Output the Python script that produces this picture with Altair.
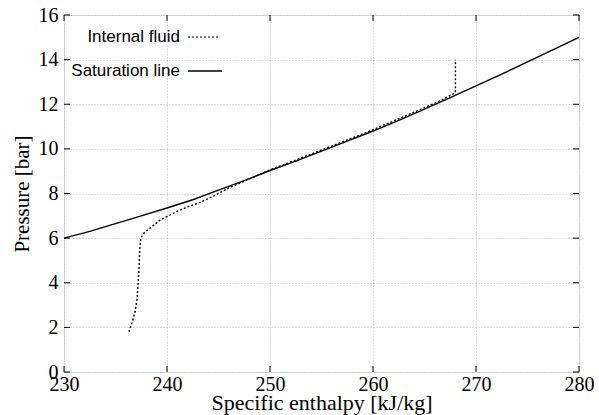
import altair as alt
import pandas as pd

# Saturation line
sat_h = [230, 232.5, 235, 237.5, 240, 242.5, 245, 247.5, 250, 252.5, 255, 257.5,
         260, 262.5, 265, 267.5, 270, 272.5, 275, 277.5, 280]
sat_p = [6.0, 6.3, 6.65, 7.0, 7.35, 7.72, 8.15, 8.58, 9.03, 9.45, 9.9, 10.35,
         10.8, 11.28, 11.78, 12.3, 12.82, 13.35, 13.9, 14.45, 15.0]

# Internal fluid
fl_h = [236.3, 236.6, 236.9, 237.1, 237.2, 237.3, 237.35, 237.45, 237.8, 238.5,
        239.3, 240.0, 241.0, 242.0, 243.2, 244.5, 246.0, 248.0, 250.0, 252.5,
        255.0, 257.5, 260.0, 262.5, 265.0, 266.5, 268.0, 268.0]
fl_p = [1.8, 2.2, 2.7, 3.3, 4.0, 4.8, 5.5, 6.0, 6.25, 6.5,
        6.8, 6.97, 7.2, 7.4, 7.6, 7.88, 8.25, 8.65, 9.06, 9.5,
        9.95, 10.4, 10.86, 11.35, 11.85, 12.15, 12.52, 14.0]

x_ticks = [230, 240, 250, 260, 270, 280]
y_ticks = [0, 2, 4, 6, 8, 10, 12, 14, 16]

legend_labels = ["Internal fluid", "Saturation line"]

sat_df = pd.DataFrame({"h": sat_h, "p": sat_p, "o": range(len(sat_h))})
fl_df = pd.DataFrame({"h": fl_h, "p": fl_p, "o": range(len(fl_h))})
xt_df = pd.DataFrame({"t": x_ticks})
yt_df = pd.DataFrame({"t": y_ticks})

W, H = 515, 357
xs = alt.Scale(domain=[230, 280], nice=False)
ys = alt.Scale(domain=[0, 16], nice=False)

serif = "Liberation Serif"

xax = alt.Axis(values=x_ticks, title="Specific enthalpy [kJ/kg]", grid=True,
               gridColor="#b8b8b8", gridDash=[1, 2], gridWidth=1,
               ticks=False, domain=False, labelFont=serif, labelFontSize=20,
               labelColor="black", labelPadding=2, titleFont=serif,
               titleFontSize=22, titleFontWeight="normal", titleColor="black",
               titlePadding=-2, labelFlush=False)
yax = alt.Axis(values=y_ticks, title="Pressure [bar]", grid=True,
               gridColor="#b8b8b8", gridDash=[1, 2], gridWidth=1,
               ticks=False, domain=False, labelFont=serif, labelFontSize=20,
               labelColor="black", labelPadding=6, titleFont=serif,
               titleFontSize=21, titleFontWeight="normal", titleColor="black",
               titlePadding=6, labelFlush=False)

sat = alt.Chart(sat_df).mark_line(color="black", strokeWidth=1.4).encode(
    x=alt.X("h:Q", scale=xs, axis=xax),
    y=alt.Y("p:Q", scale=ys, axis=yax),
    order="o:Q",
)
fl = alt.Chart(fl_df).mark_line(color="black", strokeWidth=1.4, strokeDash=[2, 2]).encode(
    x=alt.X("h:Q", scale=xs),
    y=alt.Y("p:Q", scale=ys),
    order="o:Q",
)

tl = 6
xt_bot = alt.Chart(xt_df).mark_rule(color="black").encode(
    x=alt.X("t:Q", scale=xs), y=alt.value(H), y2=alt.value(H - tl))
xt_top = alt.Chart(xt_df).mark_rule(color="black").encode(
    x=alt.X("t:Q", scale=xs), y=alt.value(0), y2=alt.value(tl))
yt_left = alt.Chart(yt_df).mark_rule(color="black").encode(
    y=alt.Y("t:Q", scale=ys), x=alt.value(0), x2=alt.value(tl))
yt_right = alt.Chart(yt_df).mark_rule(color="black").encode(
    y=alt.Y("t:Q", scale=ys), x=alt.value(W), x2=alt.value(W - tl))

# Legend (gnuplot-style: label then line sample)
leg_font = "Liberation Sans"
leg1_t = alt.Chart(pd.DataFrame({"l": [legend_labels[0]]})).mark_text(
    align="right", baseline="middle", font=leg_font, fontSize=17, color="black"
).encode(text="l:N", x=alt.value(116), y=alt.value(22))
leg2_t = alt.Chart(pd.DataFrame({"l": [legend_labels[1]]})).mark_text(
    align="right", baseline="middle", font=leg_font, fontSize=17, color="black"
).encode(text="l:N", x=alt.value(116), y=alt.value(56))
leg1_l = alt.Chart(pd.DataFrame({"a": [0]})).mark_rule(
    color="black", strokeWidth=1.2, strokeDash=[2, 2]
).encode(x=alt.value(124), x2=alt.value(154), y=alt.value(22))
leg2_l = alt.Chart(pd.DataFrame({"a": [0]})).mark_rule(
    color="black", strokeWidth=1.4
).encode(x=alt.value(124), x2=alt.value(158), y=alt.value(56))

chart = alt.layer(
    sat, fl, xt_bot, xt_top, yt_left, yt_right, leg1_t, leg2_t, leg1_l, leg2_l
).properties(
    width=W, height=H,
    autosize=alt.AutoSizeParams(type="none"),
    padding={"left": 64, "top": 15, "right": 20, "bottom": 43},
).configure_view(stroke="black", strokeWidth=1.2).configure(background="white")

chart.save("out.html", embed_options={"renderer": "svg", "actions": False})
